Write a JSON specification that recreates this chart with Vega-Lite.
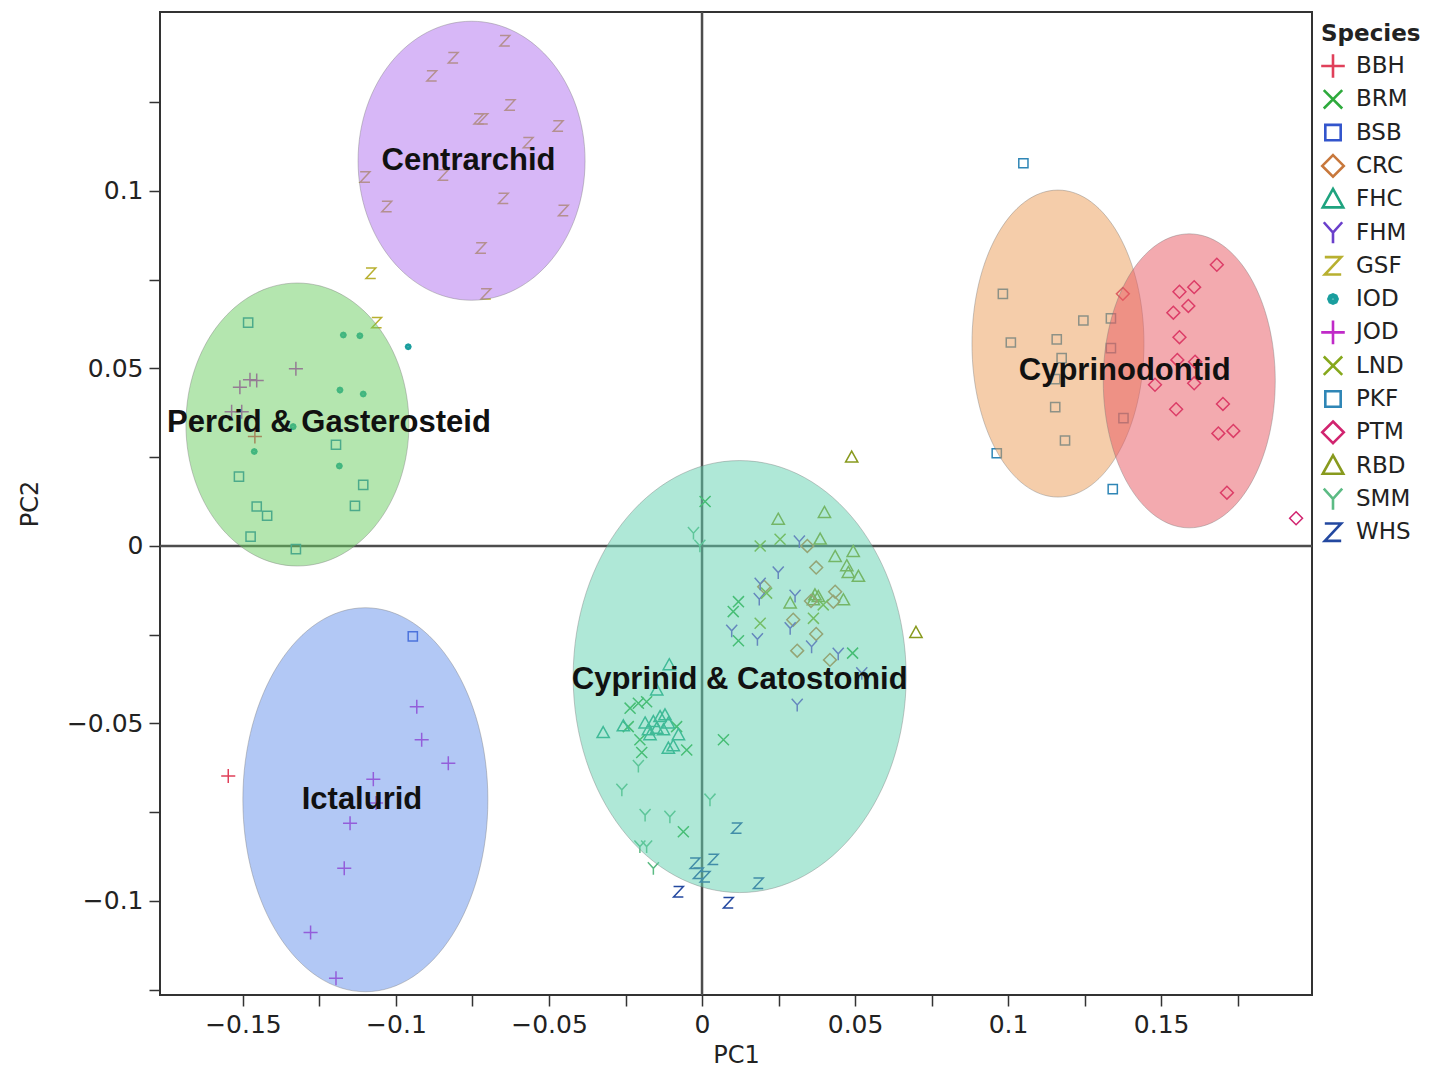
{
  "$schema": "https://vega.github.io/schema/vega-lite/v6.json",
  "autosize": "none",
  "width": 1152,
  "height": 983,
  "padding": {"left": 160, "top": 12, "right": 117, "bottom": 78},
  "background": "white",
  "config": {
    "view": {"stroke": "#333", "strokeWidth": 2},
    "axis": {
      "grid": false, "domain": false,
      "labelFont": "DejaVu Sans", "labelFontSize": 25, "labelColor": "#222",
      "titleFont": "DejaVu Sans", "titleFontSize": 24, "titleFontWeight": "normal", "titleColor": "#222",
      "tickColor": "#333", "tickWidth": 1.5, "tickSize": 11
    }
  },
  "datasets": {
    "points": [
      {"species": "GSF", "pc1": -0.0644, "pc2": 0.1423},
      {"species": "GSF", "pc1": -0.0813, "pc2": 0.1375},
      {"species": "GSF", "pc1": -0.0883, "pc2": 0.1324},
      {"species": "GSF", "pc1": -0.0627, "pc2": 0.1242},
      {"species": "GSF", "pc1": -0.0729, "pc2": 0.1203},
      {"species": "GSF", "pc1": -0.0716, "pc2": 0.1203},
      {"species": "GSF", "pc1": -0.0470, "pc2": 0.1183},
      {"species": "GSF", "pc1": -0.0568, "pc2": 0.1136},
      {"species": "GSF", "pc1": -0.1101, "pc2": 0.1039},
      {"species": "GSF", "pc1": -0.0845, "pc2": 0.1045},
      {"species": "GSF", "pc1": -0.0649, "pc2": 0.0979},
      {"species": "GSF", "pc1": -0.1030, "pc2": 0.0956},
      {"species": "GSF", "pc1": -0.0453, "pc2": 0.0945},
      {"species": "GSF", "pc1": -0.0722, "pc2": 0.0839},
      {"species": "GSF", "pc1": -0.0706, "pc2": 0.0710},
      {"species": "GSF", "pc1": -0.1082, "pc2": 0.0768},
      {"species": "GSF", "pc1": -0.1063, "pc2": 0.0629},
      {"species": "JOD", "pc1": -0.1327, "pc2": 0.0499},
      {"species": "JOD", "pc1": -0.1510, "pc2": 0.0447},
      {"species": "JOD", "pc1": -0.1477, "pc2": 0.0468},
      {"species": "JOD", "pc1": -0.1455, "pc2": 0.0466},
      {"species": "JOD", "pc1": -0.1537, "pc2": 0.0378},
      {"species": "JOD", "pc1": -0.1504, "pc2": 0.0378},
      {"species": "JOD", "pc1": -0.0932, "pc2": -0.0453},
      {"species": "JOD", "pc1": -0.0916, "pc2": -0.0546},
      {"species": "JOD", "pc1": -0.0829, "pc2": -0.0612},
      {"species": "JOD", "pc1": -0.1074, "pc2": -0.0657},
      {"species": "JOD", "pc1": -0.1065, "pc2": -0.0724},
      {"species": "JOD", "pc1": -0.1150, "pc2": -0.0781},
      {"species": "JOD", "pc1": -0.1169, "pc2": -0.0908},
      {"species": "JOD", "pc1": -0.1279, "pc2": -0.1089},
      {"species": "JOD", "pc1": -0.1196, "pc2": -0.1218},
      {"species": "BBH", "pc1": -0.1461, "pc2": 0.0308},
      {"species": "BBH", "pc1": -0.1548, "pc2": -0.0648},
      {"species": "IOD", "pc1": -0.1172, "pc2": 0.0594},
      {"species": "IOD", "pc1": -0.1118, "pc2": 0.0592},
      {"species": "IOD", "pc1": -0.0960, "pc2": 0.0561},
      {"species": "IOD", "pc1": -0.1183, "pc2": 0.0439},
      {"species": "IOD", "pc1": -0.1107, "pc2": 0.0428},
      {"species": "IOD", "pc1": -0.1336, "pc2": 0.0336},
      {"species": "IOD", "pc1": -0.1463, "pc2": 0.0266},
      {"species": "IOD", "pc1": -0.1185, "pc2": 0.0225},
      {"species": "PKF", "pc1": -0.1483, "pc2": 0.0629},
      {"species": "PKF", "pc1": -0.1196, "pc2": 0.0285},
      {"species": "PKF", "pc1": -0.1513, "pc2": 0.0195},
      {"species": "PKF", "pc1": -0.1107, "pc2": 0.0172},
      {"species": "PKF", "pc1": -0.1455, "pc2": 0.0111},
      {"species": "PKF", "pc1": -0.1421, "pc2": 0.0085},
      {"species": "PKF", "pc1": -0.1134, "pc2": 0.0113},
      {"species": "PKF", "pc1": -0.1475, "pc2": 0.0026},
      {"species": "PKF", "pc1": -0.1327, "pc2": -0.0009},
      {"species": "PKF", "pc1": 0.1050, "pc2": 0.1078},
      {"species": "PKF", "pc1": 0.0983, "pc2": 0.0710},
      {"species": "PKF", "pc1": 0.1246, "pc2": 0.0635},
      {"species": "PKF", "pc1": 0.1336, "pc2": 0.0641},
      {"species": "PKF", "pc1": 0.1009, "pc2": 0.0573},
      {"species": "PKF", "pc1": 0.1159, "pc2": 0.0582},
      {"species": "PKF", "pc1": 0.1336, "pc2": 0.0557},
      {"species": "PKF", "pc1": 0.1175, "pc2": 0.0529},
      {"species": "PKF", "pc1": 0.1154, "pc2": 0.0470},
      {"species": "PKF", "pc1": 0.1154, "pc2": 0.0391},
      {"species": "PKF", "pc1": 0.1377, "pc2": 0.0360},
      {"species": "PKF", "pc1": 0.1186, "pc2": 0.0297},
      {"species": "PKF", "pc1": 0.0963, "pc2": 0.0261},
      {"species": "PKF", "pc1": 0.1342, "pc2": 0.0160},
      {"species": "BSB", "pc1": -0.0945, "pc2": -0.0255},
      {"species": "PTM", "pc1": 0.1682, "pc2": 0.0792},
      {"species": "PTM", "pc1": 0.1375, "pc2": 0.0710},
      {"species": "PTM", "pc1": 0.1560, "pc2": 0.0716},
      {"species": "PTM", "pc1": 0.1608, "pc2": 0.0729},
      {"species": "PTM", "pc1": 0.1540, "pc2": 0.0657},
      {"species": "PTM", "pc1": 0.1589, "pc2": 0.0676},
      {"species": "PTM", "pc1": 0.1560, "pc2": 0.0588},
      {"species": "PTM", "pc1": 0.1553, "pc2": 0.0524},
      {"species": "PTM", "pc1": 0.1611, "pc2": 0.0519},
      {"species": "PTM", "pc1": 0.1480, "pc2": 0.0454},
      {"species": "PTM", "pc1": 0.1608, "pc2": 0.0458},
      {"species": "PTM", "pc1": 0.1549, "pc2": 0.0385},
      {"species": "PTM", "pc1": 0.1702, "pc2": 0.0400},
      {"species": "PTM", "pc1": 0.1687, "pc2": 0.0317},
      {"species": "PTM", "pc1": 0.1736, "pc2": 0.0324},
      {"species": "PTM", "pc1": 0.1715, "pc2": 0.0150},
      {"species": "PTM", "pc1": 0.1941, "pc2": 0.0078},
      {"species": "RBD", "pc1": 0.0489, "pc2": 0.0250},
      {"species": "RBD", "pc1": 0.0249, "pc2": 0.0075},
      {"species": "RBD", "pc1": 0.0400, "pc2": 0.0094},
      {"species": "RBD", "pc1": 0.0386, "pc2": 0.0019},
      {"species": "RBD", "pc1": 0.0435, "pc2": -0.0030},
      {"species": "RBD", "pc1": 0.0494, "pc2": -0.0016},
      {"species": "RBD", "pc1": 0.0473, "pc2": -0.0056},
      {"species": "RBD", "pc1": 0.0478, "pc2": -0.0075},
      {"species": "RBD", "pc1": 0.0511, "pc2": -0.0086},
      {"species": "RBD", "pc1": 0.0288, "pc2": -0.0161},
      {"species": "RBD", "pc1": 0.0369, "pc2": -0.0138},
      {"species": "RBD", "pc1": 0.0380, "pc2": -0.0143},
      {"species": "RBD", "pc1": 0.0364, "pc2": -0.0152},
      {"species": "RBD", "pc1": 0.0462, "pc2": -0.0152},
      {"species": "RBD", "pc1": 0.0699, "pc2": -0.0244},
      {"species": "CRC", "pc1": 0.0344, "pc2": 0.0000},
      {"species": "CRC", "pc1": 0.0373, "pc2": -0.0061},
      {"species": "CRC", "pc1": 0.0203, "pc2": -0.0115},
      {"species": "CRC", "pc1": 0.0356, "pc2": -0.0155},
      {"species": "CRC", "pc1": 0.0435, "pc2": -0.0129},
      {"species": "CRC", "pc1": 0.0429, "pc2": -0.0157},
      {"species": "CRC", "pc1": 0.0298, "pc2": -0.0208},
      {"species": "CRC", "pc1": 0.0373, "pc2": -0.0248},
      {"species": "CRC", "pc1": 0.0311, "pc2": -0.0295},
      {"species": "CRC", "pc1": 0.0418, "pc2": -0.0321},
      {"species": "FHM", "pc1": 0.0318, "pc2": 0.0012},
      {"species": "FHM", "pc1": 0.0249, "pc2": -0.0075},
      {"species": "FHM", "pc1": 0.0190, "pc2": -0.0107},
      {"species": "FHM", "pc1": 0.0187, "pc2": -0.0150},
      {"species": "FHM", "pc1": 0.0304, "pc2": -0.0141},
      {"species": "FHM", "pc1": 0.0097, "pc2": -0.0239},
      {"species": "FHM", "pc1": 0.0181, "pc2": -0.0263},
      {"species": "FHM", "pc1": 0.0288, "pc2": -0.0232},
      {"species": "FHM", "pc1": 0.0358, "pc2": -0.0284},
      {"species": "FHM", "pc1": 0.0445, "pc2": -0.0304},
      {"species": "FHM", "pc1": 0.0522, "pc2": -0.0359},
      {"species": "FHM", "pc1": 0.0311, "pc2": -0.0448},
      {"species": "LND", "pc1": 0.0190, "pc2": 0.0000},
      {"species": "LND", "pc1": 0.0255, "pc2": 0.0019},
      {"species": "LND", "pc1": 0.0211, "pc2": -0.0133},
      {"species": "LND", "pc1": 0.0396, "pc2": -0.0166},
      {"species": "LND", "pc1": 0.0364, "pc2": -0.0204},
      {"species": "LND", "pc1": 0.0190, "pc2": -0.0218},
      {"species": "BRM", "pc1": 0.0010, "pc2": 0.0125},
      {"species": "BRM", "pc1": 0.0119, "pc2": -0.0157},
      {"species": "BRM", "pc1": 0.0102, "pc2": -0.0185},
      {"species": "BRM", "pc1": 0.0119, "pc2": -0.0267},
      {"species": "BRM", "pc1": 0.0492, "pc2": -0.0302},
      {"species": "BRM", "pc1": -0.0235, "pc2": -0.0457},
      {"species": "BRM", "pc1": -0.0208, "pc2": -0.0443},
      {"species": "BRM", "pc1": -0.0181, "pc2": -0.0439},
      {"species": "BRM", "pc1": -0.0241, "pc2": -0.0509},
      {"species": "BRM", "pc1": -0.0203, "pc2": -0.0546},
      {"species": "BRM", "pc1": -0.0083, "pc2": -0.0509},
      {"species": "BRM", "pc1": -0.0197, "pc2": -0.0582},
      {"species": "BRM", "pc1": -0.0050, "pc2": -0.0575},
      {"species": "BRM", "pc1": 0.0070, "pc2": -0.0546},
      {"species": "BRM", "pc1": -0.0061, "pc2": -0.0805},
      {"species": "FHC", "pc1": -0.0107, "pc2": -0.0335},
      {"species": "FHC", "pc1": -0.0148, "pc2": -0.0406},
      {"species": "FHC", "pc1": -0.0323, "pc2": -0.0526},
      {"species": "FHC", "pc1": -0.0257, "pc2": -0.0507},
      {"species": "FHC", "pc1": -0.0186, "pc2": -0.0499},
      {"species": "FHC", "pc1": -0.0175, "pc2": -0.0518},
      {"species": "FHC", "pc1": -0.0159, "pc2": -0.0495},
      {"species": "FHC", "pc1": -0.0137, "pc2": -0.0481},
      {"species": "FHC", "pc1": -0.0121, "pc2": -0.0476},
      {"species": "FHC", "pc1": -0.0110, "pc2": -0.0499},
      {"species": "FHC", "pc1": -0.0148, "pc2": -0.0514},
      {"species": "FHC", "pc1": -0.0170, "pc2": -0.0532},
      {"species": "FHC", "pc1": -0.0126, "pc2": -0.0518},
      {"species": "FHC", "pc1": -0.0077, "pc2": -0.0532},
      {"species": "FHC", "pc1": -0.0110, "pc2": -0.0570},
      {"species": "FHC", "pc1": -0.0094, "pc2": -0.0563},
      {"species": "SMM", "pc1": -0.0028, "pc2": 0.0036},
      {"species": "SMM", "pc1": -0.0007, "pc2": 0.0000},
      {"species": "SMM", "pc1": -0.0208, "pc2": -0.0620},
      {"species": "SMM", "pc1": -0.0262, "pc2": -0.0687},
      {"species": "SMM", "pc1": -0.0186, "pc2": -0.0758},
      {"species": "SMM", "pc1": -0.0105, "pc2": -0.0763},
      {"species": "SMM", "pc1": 0.0026, "pc2": -0.0715},
      {"species": "SMM", "pc1": -0.0203, "pc2": -0.0847},
      {"species": "SMM", "pc1": -0.0181, "pc2": -0.0847},
      {"species": "SMM", "pc1": -0.0159, "pc2": -0.0908},
      {"species": "WHS", "pc1": 0.0113, "pc2": -0.0795},
      {"species": "WHS", "pc1": 0.0037, "pc2": -0.0883},
      {"species": "WHS", "pc1": -0.0023, "pc2": -0.0894},
      {"species": "WHS", "pc1": -0.0012, "pc2": -0.0922},
      {"species": "WHS", "pc1": 0.0010, "pc2": -0.0932},
      {"species": "WHS", "pc1": 0.0184, "pc2": -0.0950},
      {"species": "WHS", "pc1": -0.0077, "pc2": -0.0974},
      {"species": "WHS", "pc1": 0.0086, "pc2": -0.1005}
    ],
    "clusters": [
      {"cluster": "Centrarchid", "pc1": -0.0753, "pc2": 0.1085},
      {"cluster": "Percid & Gasterosteid", "pc1": -0.1322, "pc2": 0.0342},
      {"cluster": "Ictalurid", "pc1": -0.1100, "pc2": -0.0715},
      {"cluster": "Cyprinid & Catostomid", "pc1": 0.0123, "pc2": -0.0368},
      {"cluster": "Cyprinodontid PKF", "pc1": 0.1163, "pc2": 0.0570},
      {"cluster": "Cyprinodontid PTM", "pc1": 0.1592, "pc2": 0.0465}
    ],
    "labels": [
      {"label": "Centrarchid", "pc1": -0.0763, "pc2": 0.1085},
      {"label": "Percid & Gasterosteid", "pc1": -0.1219, "pc2": 0.0346},
      {"label": "Ictalurid", "pc1": -0.1111, "pc2": -0.0715},
      {"label": "Cyprinid & Catostomid", "pc1": 0.0123, "pc2": -0.0377},
      {"label": "Cyprinodontid", "pc1": 0.1381, "pc2": 0.0493}
    ],
    "zero": [{"value": 0}]
  },
  "encoding": {
    "x": {
      "field": "pc1", "type": "quantitative", "title": "PC1",
      "scale": {"domain": [-0.1771, 0.1993], "nice": false, "zero": false},
      "axis": {
        "values": [-0.15, -0.125, -0.1, -0.075, -0.05, -0.025, 0, 0.025, 0.05, 0.075, 0.1, 0.125, 0.15, 0.175],
        "format": "~g",
        "labelExpr": "abs(datum.value * 20 - round(datum.value * 20)) < 0.001 ? datum.label : ''",
        "labelPadding": 6, "titlePadding": 6
      }
    },
    "y": {
      "field": "pc2", "type": "quantitative", "title": "PC2",
      "scale": {"domain": [-0.1265, 0.1504], "nice": false, "zero": false},
      "axis": {
        "values": [-0.125, -0.1, -0.075, -0.05, -0.025, 0, 0.025, 0.05, 0.075, 0.1, 0.125],
        "format": "~g",
        "labelExpr": "abs(datum.value * 20 - round(datum.value * 20)) < 0.001 ? datum.label : ''",
        "labelPadding": 6, "titlePadding": 24
      }
    }
  },
  "layer": [
    {
      "data": {"name": "zero"},
      "mark": {"type": "rule", "color": "#4d4d4d", "strokeWidth": 2.5},
      "encoding": {"x": null, "y": {"field": "value", "type": "quantitative"}}
    },
    {
      "data": {"name": "zero"},
      "mark": {"type": "rule", "color": "#4d4d4d", "strokeWidth": 2.5},
      "encoding": {"y": null, "x": {"field": "value", "type": "quantitative"}}
    },
    {
      "data": {"name": "points"},
      "mark": {"type": "point", "filled": false, "size": 150, "strokeWidth": 1.5, "opacity": 1},
      "encoding": {
        "color": {
          "field": "species", "type": "nominal",
          "scale": {
            "domain": ["BBH", "BRM", "BSB", "CRC", "FHC", "FHM", "GSF", "IOD", "JOD", "LND", "PKF", "PTM", "RBD", "SMM", "WHS"],
            "range": ["#E0405A", "#2EAA3C", "#3355CC", "#C8783C", "#1FA37F", "#6A3FCB", "#B8B030", "#1A9E9E", "#C02AC8", "#86A81C", "#2F86B6", "#D1246F", "#889A1E", "#5CBB84", "#2348A0"]
          },
          "legend": {
            "title": "Species", "orient": "none", "legendX": 1161, "legendY": 11, "padding": 0,
            "titleFont": "DejaVu Sans", "titleFontSize": 23, "titleFontWeight": "bold", "titleColor": "#222", "titlePadding": 8,
            "labelFont": "DejaVu Sans", "labelFontSize": 23, "labelColor": "#222", "labelOffset": 11,
            "symbolSize": 420, "symbolStrokeWidth": 2.6, "rowPadding": -0.7, "gridAlign": "all"
          }
        },
        "shape": {
          "field": "species", "type": "nominal",
          "scale": {
            "domain": ["BBH", "BRM", "BSB", "CRC", "FHC", "FHM", "GSF", "IOD", "JOD", "LND", "PKF", "PTM", "RBD", "SMM", "WHS"],
            "range": [
              "M-1.15,0L1.15,0M0,-1.15L0,1.15",
              "M-0.9,-0.9L0.9,0.9M-0.9,0.9L0.9,-0.9",
              "M-0.75,-0.75L0.75,-0.75L0.75,0.75L-0.75,0.75Z",
              "M0,-1.05L1.05,0L0,1.05L-1.05,0Z",
              "M0,-1L1,0.8L-1,0.8Z",
              "M-0.9,-1L0,0L0.9,-1M0,0L0,1.05",
              "M-0.8,-0.85L0.8,-0.85L-0.8,0.85L0.8,0.85",
              "M0.45,0L0.318,0.318L0,0.45L-0.318,0.318L-0.45,0L-0.318,-0.318L0,-0.45L0.318,-0.318ZM0.24,0L0.17,0.17L0,0.24L-0.17,0.17L-0.24,0L-0.17,-0.17L0,-0.24L0.17,-0.17ZM-0.06,0L0.06,0",
              "M-1.15,0L1.15,0M0,-1.15L0,1.15",
              "M-0.9,-0.9L0.9,0.9M-0.9,0.9L0.9,-0.9",
              "M-0.75,-0.75L0.75,-0.75L0.75,0.75L-0.75,0.75Z",
              "M0,-1.05L1.05,0L0,1.05L-1.05,0Z",
              "M0,-1L1,0.8L-1,0.8Z",
              "M-0.9,-1L0,0L0.9,-1M0,0L0,1.05",
              "M-0.8,-0.85L0.8,-0.85L-0.8,0.85L0.8,0.85"
            ]
          }
        }
      }
    },
    {
      "data": {"name": "clusters"},
      "mark": {"type": "point", "filled": true, "size": 4, "opacity": 1, "fillOpacity": 0.5, "stroke": "#777", "strokeOpacity": 0.4, "strokeWidth": 1},
      "encoding": {
        "color": {
          "field": "cluster", "type": "nominal", "legend": null,
          "scale": {
            "domain": ["Centrarchid", "Percid & Gasterosteid", "Ictalurid", "Cyprinid & Catostomid", "Cyprinodontid PKF", "Cyprinodontid PTM"],
            "range": ["#B070F0", "#69CD5F", "#6591EB", "#5FD1AF", "#EB9B55", "#E7555F"]
          }
        },
        "shape": {
          "field": "cluster", "type": "nominal", "legend": null,
          "scale": {
            "domain": ["Centrarchid", "Percid & Gasterosteid", "Ictalurid", "Cyprinid & Catostomid", "Cyprinodontid PKF", "Cyprinodontid PTM"],
            "range": [
              "M113.5,0C113.5,77.05,62.69,139.5,0,139.5C-62.69,139.5,-113.5,77.05,-113.5,0C-113.5,-77.05,-62.69,-139.5,0,-139.5C62.69,-139.5,113.5,-77.05,113.5,0Z",
              "M111.5,0C111.5,78.15,61.58,141.5,0,141.5C-61.58,141.5,-111.5,78.15,-111.5,0C-111.5,-78.15,-61.58,-141.5,0,-141.5C61.58,-141.5,111.5,-78.15,111.5,0Z",
              "M122.5,0C122.5,106.04,67.66,192,0,192C-67.66,192,-122.5,106.04,-122.5,0C-122.5,-106.04,-67.66,-192,0,-192C67.66,-192,122.5,-106.04,122.5,0Z",
              "M166.5,0C166.5,119.3,91.96,216,0,216C-91.96,216,-166.5,119.3,-166.5,0C-166.5,-119.3,-91.96,-216,0,-216C91.96,-216,166.5,-119.3,166.5,0Z",
              "M86,0C86,84.78,47.5,153.5,0,153.5C-47.5,153.5,-86,84.78,-86,0C-86,-84.78,-47.5,-153.5,0,-153.5C47.5,-153.5,86,-84.78,86,0Z",
              "M86,0C86,81.19,47.5,147,0,147C-47.5,147,-86,81.19,-86,0C-86,-81.19,-47.5,-147,0,-147C47.5,-147,86,-81.19,86,0Z"
            ]
          }
        }
      }
    },
    {
      "data": {"name": "labels"},
      "mark": {"type": "text", "font": "Liberation Sans", "fontWeight": "bold", "fontSize": 31, "color": "#111", "align": "center", "baseline": "middle"},
      "encoding": {"text": {"field": "label", "type": "nominal"}}
    }
  ],
  "resolve": {"scale": {"color": "independent", "shape": "independent"}}
}
